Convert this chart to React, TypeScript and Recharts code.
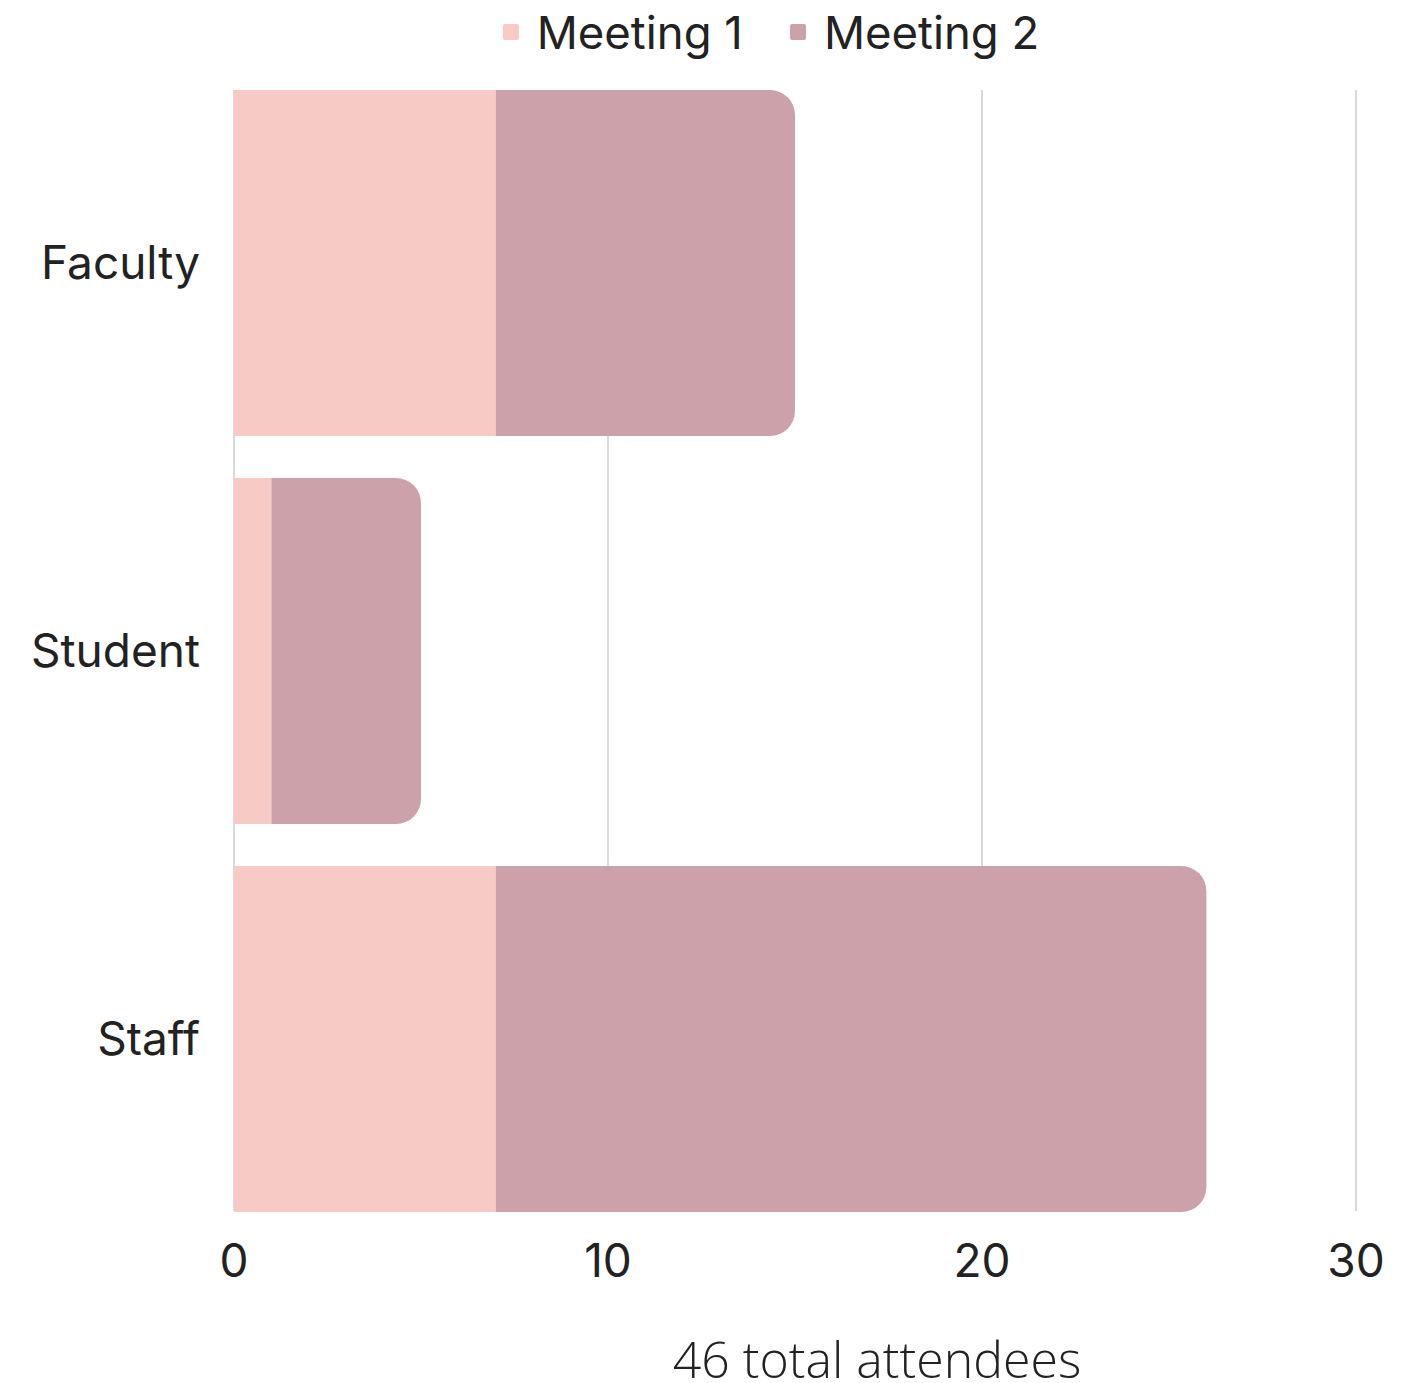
import { BarChart, Bar, XAxis, YAxis, CartesianGrid, Legend } from 'recharts';

const categories = ['Faculty', 'Student', 'Staff'];
const meeting1 = [7, 1, 7];
const meeting2 = [8, 4, 19];
const xTicks = [0, 10, 20, 30];

const SERIES = [
  { key: 'Meeting 1', color: '#f7cac6' },
  { key: 'Meeting 2', color: '#cca1aa' },
];

const FONT = 'Inter, "Noto Sans", sans-serif';

const data = categories.map((name, i) => ({
  name,
  'Meeting 1': meeting1[i],
  'Meeting 2': meeting2[i],
}));

const total = [...meeting1, ...meeting2].reduce((a, b) => a + b, 0);

const LegendContent = () => (
  <div
    style={{
      height: 69,
      boxSizing: 'border-box',
      paddingBottom: 5,
      display: 'flex',
      alignItems: 'center',
      justifyContent: 'center',
      paddingLeft: 186,
      fontFamily: FONT,
      fontSize: 45.5,
      color: '#222',
    }}
  >
    {SERIES.map((s, i) => (
      <div key={s.key} style={{ display: 'flex', alignItems: 'center', marginLeft: i ? 47 : 0 }}>
        <span style={{ width: 16, height: 16, background: s.color, borderRadius: 2, marginRight: 18 }} />
        <span>{s.key}</span>
      </div>
    ))}
  </div>
);

export default function App() {
  return (
    <div style={{ position: 'absolute', left: 0, top: 0, background: '#fff' }}>
      <BarChart
        width={1422}
        height={1383}
        data={data}
        layout="vertical"
        margin={{ top: 0, right: 66, left: 0, bottom: 0 }}
        barCategoryGap={21}
      >
        <CartesianGrid horizontal={false} stroke="#cccccc" strokeWidth={1.5} y={90} height={1121} />
        <XAxis
          type="number"
          domain={[0, 30]}
          ticks={xTicks}
          axisLine={false}
          tickLine={false}
          tickSize={0}
          tickMargin={11}
          height={150}
          tick={{ fontSize: 46, fill: '#222', fontFamily: FONT }}
          label={{
            value: `${total} total attendees`,
            position: 'insideBottom',
            offset: 5,
            dx: 82,
            fontSize: 50,
            fill: '#222',
            fontFamily: '"Open Sans", sans-serif',
            fontWeight: 300,
          }}
        />
        <YAxis
          type="category"
          dataKey="name"
          width={234}
          axisLine={false}
          tickLine={false}
          tickSize={0}
          tickMargin={34}
          tick={{ fontSize: 46, fill: '#222', fontFamily: FONT }}
        />
        <Legend verticalAlign="top" align="center" content={<LegendContent />} />
        <Bar dataKey="Meeting 1" stackId="a" fill={SERIES[0].color} isAnimationActive={false} />
        <Bar
          dataKey="Meeting 2"
          stackId="a"
          fill={SERIES[1].color}
          radius={[0, 25, 25, 0]}
          isAnimationActive={false}
        />
      </BarChart>
    </div>
  );
}
